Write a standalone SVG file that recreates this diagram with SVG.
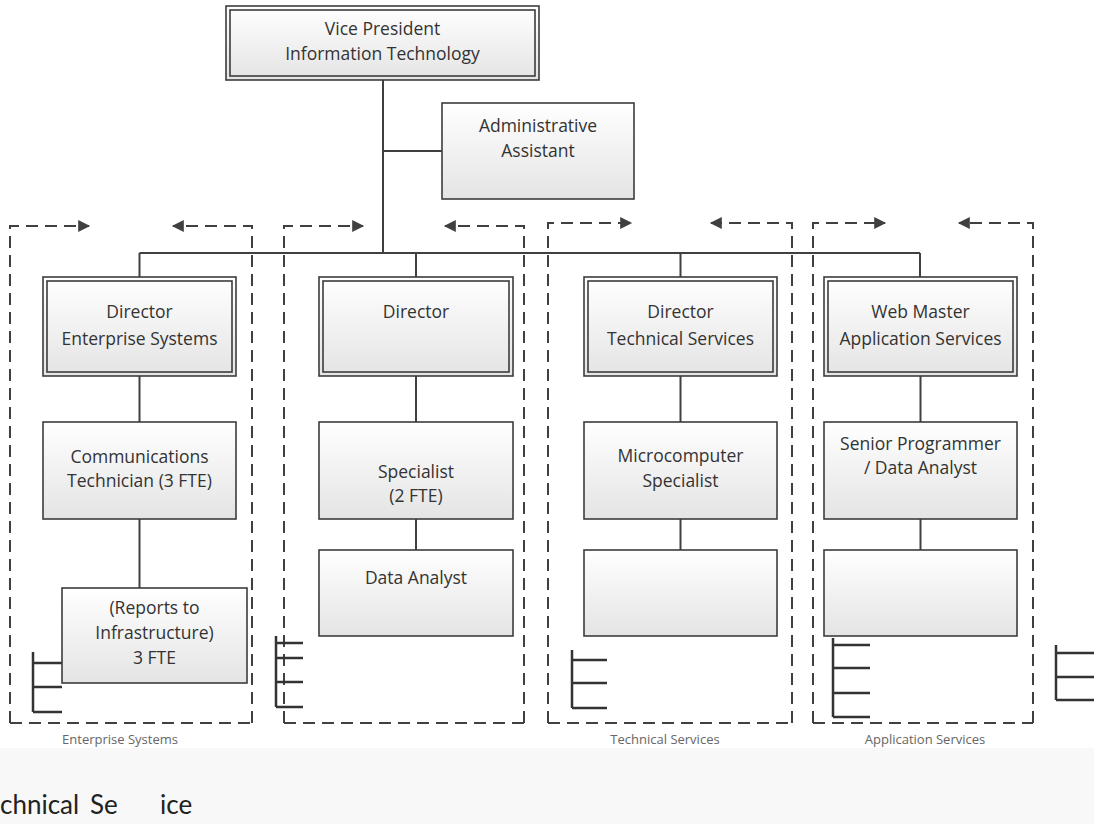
<svg xmlns="http://www.w3.org/2000/svg" width="1094" height="824" viewBox="0 0 1094 824">
<defs>
<linearGradient id="g" x1="0" y1="0" x2="0" y2="1">
<stop offset="0" stop-color="#ffffff"/>
<stop offset="1" stop-color="#e4e4e4"/>
</linearGradient>
<marker id="ah" viewBox="0 0 10 10" refX="9" refY="5" markerWidth="6.5" markerHeight="6" orient="auto" markerUnits="strokeWidth">
<path d="M0,0 L10,5 L0,10 Z" fill="#404040"/>
</marker>
</defs>
<style>
.box{fill:url(#g);stroke:#3c3c3c;stroke-width:1.6}
.inner{fill:none;stroke:#3c3c3c;stroke-width:1.6}
.t{font-family:"Open Sans","Liberation Sans",sans-serif;font-size:17.5px;fill:#333333;text-anchor:middle}
.lab{font-family:"Open Sans","Liberation Sans",sans-serif;font-size:13px;fill:#666666;text-anchor:middle}
.conn{stroke:#404040;stroke-width:2;fill:none}
.dash{stroke:#404040;stroke-width:2;stroke-dasharray:12 7;fill:none}
.br{stroke:#333333;stroke-width:2.5;fill:none}
</style>
<rect x="0" y="0" width="1094" height="824" fill="#ffffff"/>
<rect x="0" y="748" width="1094" height="76" fill="#f8f8f8"/>

<g id="connectors">
<path class="conn" d="M383,80 V253 M383,151 H442 M139.5,253 H920 M139.5,253 V277 M416,253 V277 M680.5,253 V277 M920,253 V277"/>
<path class="conn" d="M139.5,376 V422 M416,376 V422 M680.5,376 V422 M920.5,376 V422"/>
<path class="conn" d="M139.5,519 V588 M416,519 V550 M680.5,519 V550 M920.5,519 V550"/>
<path class="dash" d="M10,723 V226 H89" marker-end="url(#ah)"/>
<path class="dash" d="M252,723 V226 H173" marker-end="url(#ah)"/>
<path class="dash" d="M10,723 H252"/>
<path class="dash" d="M284,723 V226 H363" marker-end="url(#ah)"/>
<path class="dash" d="M524,723 V226 H445" marker-end="url(#ah)"/>
<path class="dash" d="M284,723 H524"/>
<path class="dash" d="M548,723 V223 H631" marker-end="url(#ah)"/>
<path class="dash" d="M792,723 V223 H711" marker-end="url(#ah)"/>
<path class="dash" d="M548,723 H792"/>
<path class="dash" d="M813,723 V223 H885" marker-end="url(#ah)"/>
<path class="dash" d="M1033,723 V223 H959" marker-end="url(#ah)"/>
<path class="dash" d="M813,723 H1033"/>
<path class="br" d="M33,652 V712 M33,663 H62 M33,687 H62 M33,712 H62"/>
<path class="br" d="M276,636 V707 M276,643 H303 M276,658 H303 M276,682 H303 M276,707 H303"/>
<path class="br" d="M572,650 V708 M572,660 H607 M572,683 H607 M572,708 H607"/>
<path class="br" d="M833,638 V717 M833,645 H870 M833,668 H870 M833,693 H870 M833,717 H870"/>
<path class="br" d="M1056,645 V700 M1056,653 H1094 M1056,677 H1094 M1056,700 H1094"/>
</g>

<g id="vp">
<rect class="box" x="226" y="6" width="313" height="74"/>
<rect class="inner" x="230" y="10" width="305" height="66"/>
<text class="t" x="382.5" y="35">Vice President</text>
<text class="t" x="382.5" y="60">Information Technology</text>
</g>

<g id="admin">
<rect class="box" x="442" y="103" width="192" height="96"/>
<text class="t" x="538" y="132">Administrative</text>
<text class="t" x="538" y="157">Assistant</text>
</g>

<g id="dir1">
<rect class="box" x="43" y="277" width="193" height="99"/>
<rect class="inner" x="47" y="281" width="185" height="91"/>
<text class="t" x="139.5" y="318">Director</text>
<text class="t" x="139.5" y="345">Enterprise Systems</text>
</g>
<g id="dir2">
<rect class="box" x="319" y="277" width="194" height="99"/>
<rect class="inner" x="323" y="281" width="186" height="91"/>
<text class="t" x="416" y="318">Director</text>
</g>
<g id="dir3">
<rect class="box" x="584" y="277" width="193" height="99"/>
<rect class="inner" x="588" y="281" width="185" height="91"/>
<text class="t" x="680.5" y="318">Director</text>
<text class="t" x="680.5" y="345">Technical Services</text>
</g>
<g id="dir4">
<rect class="box" x="824" y="277" width="193" height="99"/>
<rect class="inner" x="828" y="281" width="185" height="91"/>
<text class="t" x="920.5" y="318">Web Master</text>
<text class="t" x="920.5" y="345">Application Services</text>
</g>

<g id="comm">
<rect class="box" x="43" y="422" width="193" height="97"/>
<text class="t" x="139.5" y="463">Communications</text>
<text class="t" x="139.5" y="487">Technician (3 FTE)</text>
</g>
<g id="spec2">
<rect class="box" x="319" y="422" width="194" height="97"/>
<text class="t" x="416" y="478">Specialist</text>
<text class="t" x="416" y="502">(2 FTE)</text>
</g>
<g id="micro">
<rect class="box" x="584" y="422" width="193" height="97"/>
<text class="t" x="680.5" y="462">Microcomputer</text>
<text class="t" x="680.5" y="487">Specialist</text>
</g>
<g id="senior">
<rect class="box" x="824" y="422" width="193" height="97"/>
<text class="t" x="920.5" y="450">Senior Programmer</text>
<text class="t" x="920.5" y="474">/ Data Analyst</text>
</g>

<g id="infra">
<rect class="box" x="62" y="588" width="185" height="95"/>
<text class="t" x="154.5" y="614">(Reports to</text>
<text class="t" x="154.5" y="639">Infrastructure)</text>
<text class="t" x="154.5" y="664">3 FTE</text>
</g>
<g id="analyst">
<rect class="box" x="319" y="550" width="194" height="86"/>
<text class="t" x="416" y="584">Data Analyst</text>
</g>
<g id="r3c3">
<rect class="box" x="584" y="550" width="193" height="86"/>
</g>
<g id="r3c4">
<rect class="box" x="824" y="550" width="193" height="86"/>
</g>

<g id="labels">
<text class="lab" x="120" y="744">Enterprise Systems</text>
<text class="lab" x="665" y="744">Technical Services</text>
<text class="lab" x="925" y="744">Application Services</text>
<text y="814" font-family="Lato, 'Open Sans', sans-serif" font-size="26" fill="#222222"><tspan x="0">chnical</tspan><tspan x="90">Se</tspan><tspan x="160">ice</tspan></text>
</g>
</svg>
